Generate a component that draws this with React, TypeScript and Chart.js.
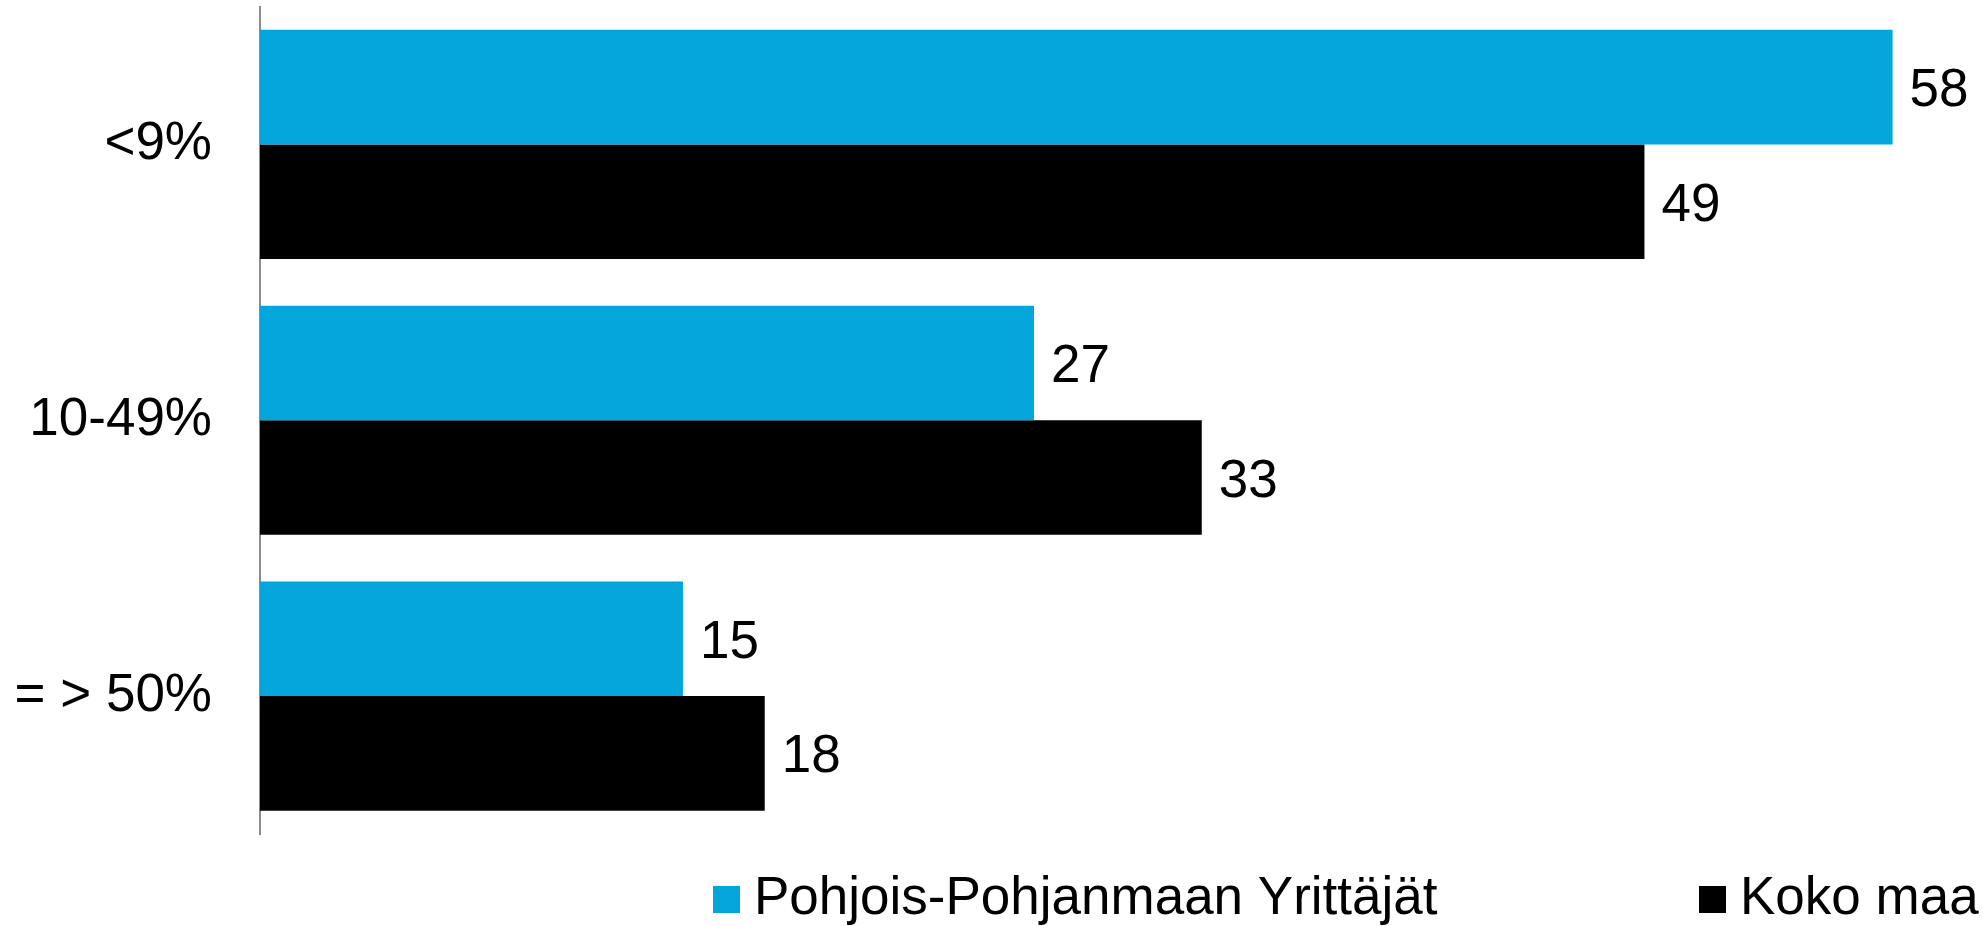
import React, { useEffect, useRef } from "react";
import { Chart, registerables } from "chart.js";

Chart.register(...registerables);

const categories = ["<9%", "10-49%", "= > 50%"];
const seriesNames = ["Pohjois-Pohjanmaan Yrittäjät", "Koko maa"];
const regionValues = [57.9, 27.45, 15.0];
const nationalValues = [49.1, 33.4, 17.9];
const seriesColors = ["#03A5DA", "#000000"];

const FONT = "'Liberation Sans', Arial, Helvetica, sans-serif";
const FONT_SIZE = 53;

const valueLabelPlugin = {
  id: "valueLabels",
  afterDatasetsDraw(chart: any) {
    const ctx = chart.ctx;
    ctx.save();
    ctx.font = `${FONT_SIZE}px ${FONT}`;
    ctx.fillStyle = "#000";
    ctx.textAlign = "left";
    ctx.textBaseline = "alphabetic";
    chart.data.datasets.forEach((ds: any, di: number) => {
      const meta = chart.getDatasetMeta(di);
      meta.data.forEach((bar: any, i: number) => {
        const v = ds.data[i];
        ctx.fillText(String(Math.round(v)), bar.x + 17, bar.y + FONT_SIZE * 0.36);
      });
    });
    ctx.restore();
  },
};

const legendPlugin = {
  id: "customLegend",
  afterDraw(chart: any) {
    const ctx = chart.ctx;
    const positions = [713, 1699];
    const boxSize = 27;
    const boxTop = 886;
    const baseline = 914;
    ctx.save();
    ctx.font = `${FONT_SIZE}px ${FONT}`;
    ctx.textAlign = "left";
    ctx.textBaseline = "alphabetic";
    chart.data.datasets.forEach((ds: any, di: number) => {
      const x = positions[di];
      ctx.fillStyle = ds.backgroundColor;
      ctx.fillRect(x, boxTop, boxSize, boxSize);
      ctx.fillStyle = "#000";
      ctx.fillText(ds.label, x + boxSize + 14, baseline);
    });
    ctx.restore();
  },
};

export default function App() {
  const canvasRef = useRef<HTMLCanvasElement | null>(null);

  useEffect(() => {
    if (!canvasRef.current) return;
    const chart = new Chart(canvasRef.current, {
      type: "bar",
      data: {
        labels: categories,
        datasets: [
          {
            label: seriesNames[0],
            data: regionValues,
            backgroundColor: seriesColors[0],
            borderWidth: 0,
            categoryPercentage: 0.831,
            barPercentage: 1,
          },
          {
            label: seriesNames[1],
            data: nationalValues,
            backgroundColor: seriesColors[1],
            borderWidth: 0,
            categoryPercentage: 0.831,
            barPercentage: 1,
          },
        ],
      },
      options: {
        indexAxis: "y",
        animation: false,
        responsive: true,
        maintainAspectRatio: false,
        layout: { padding: { left: 0, right: 3, top: 6.5, bottom: 92 } },
        plugins: {
          legend: { display: false },
          tooltip: { enabled: false },
        },
        scales: {
          x: {
            display: false,
            min: 0,
            max: 61,
          },
          y: {
            afterFit: (scale: any) => {
              scale.width = 260;
              scale.paddingTop = 0;
              scale.paddingBottom = 0;
            },
            grid: { display: false, drawTicks: false },
            border: { display: true, color: "#8c8c8c", width: 2 },
            ticks: {
              padding: 48,
              color: "#000",
              font: { family: FONT, size: FONT_SIZE },
            },
          },
        },
      },
      plugins: [valueLabelPlugin, legendPlugin],
    });
    return () => chart.destroy();
  }, []);

  return (
    <div
      style={{
        position: "fixed",
        left: 0,
        top: 0,
        width: 1983,
        height: 926,
        background: "#fff",
      }}
    >
      <canvas ref={canvasRef} />
    </div>
  );
}
